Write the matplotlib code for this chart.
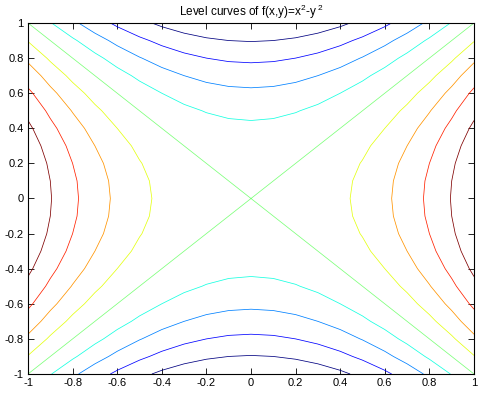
import numpy as np
import matplotlib
matplotlib.use("Agg")
import matplotlib.pyplot as plt

# Data
grid_x = np.linspace(-1, 1, 21)
grid_y = np.linspace(-1, 1, 21)
levels = [-0.8, -0.6, -0.4, -0.2, 0.0, 0.2, 0.4, 0.6, 0.8]
ticks = [-1, -0.8, -0.6, -0.4, -0.2, 0, 0.2, 0.4, 0.6, 0.8, 1]
tick_labels = ["-1", "-0.8", "-0.6", "-0.4", "-0.2", "0", "0.2", "0.4", "0.6", "0.8", "1"]
title = "Level curves of f(x,y)=x$^2$-y$^{\\ 2}$"

X, Y = np.meshgrid(grid_x, grid_y)
Z = X**2 - Y**2

plt.rcParams['font.family'] = ['Liberation Sans', 'DejaVu Sans']
plt.rcParams['mathtext.fontset'] = 'custom'
plt.rcParams['mathtext.rm'] = 'Liberation Sans'
plt.rcParams['mathtext.it'] = 'Liberation Sans'

fig = plt.figure(figsize=(4.81, 3.93), dpi=100)
ax = fig.add_axes([28/481, 19/393, 446/481, 351/393])
ax.contour(X, Y, Z, levels=levels, cmap='jet', linewidths=0.55)
ax.set_xlim(-1, 1)
ax.set_ylim(-1, 1)
ax.set_xticks(ticks)
ax.set_xticklabels(tick_labels)
ax.set_yticks(ticks)
ax.set_yticklabels(tick_labels)
ax.tick_params(direction='in', length=4, width=0.6, labelsize=8, top=True, right=True, pad=3)
for s in ax.spines.values():
    s.set_linewidth(0.8)
ax.set_title(title, fontsize=8.5, pad=5)
fig.savefig("out.png", dpi=100)
